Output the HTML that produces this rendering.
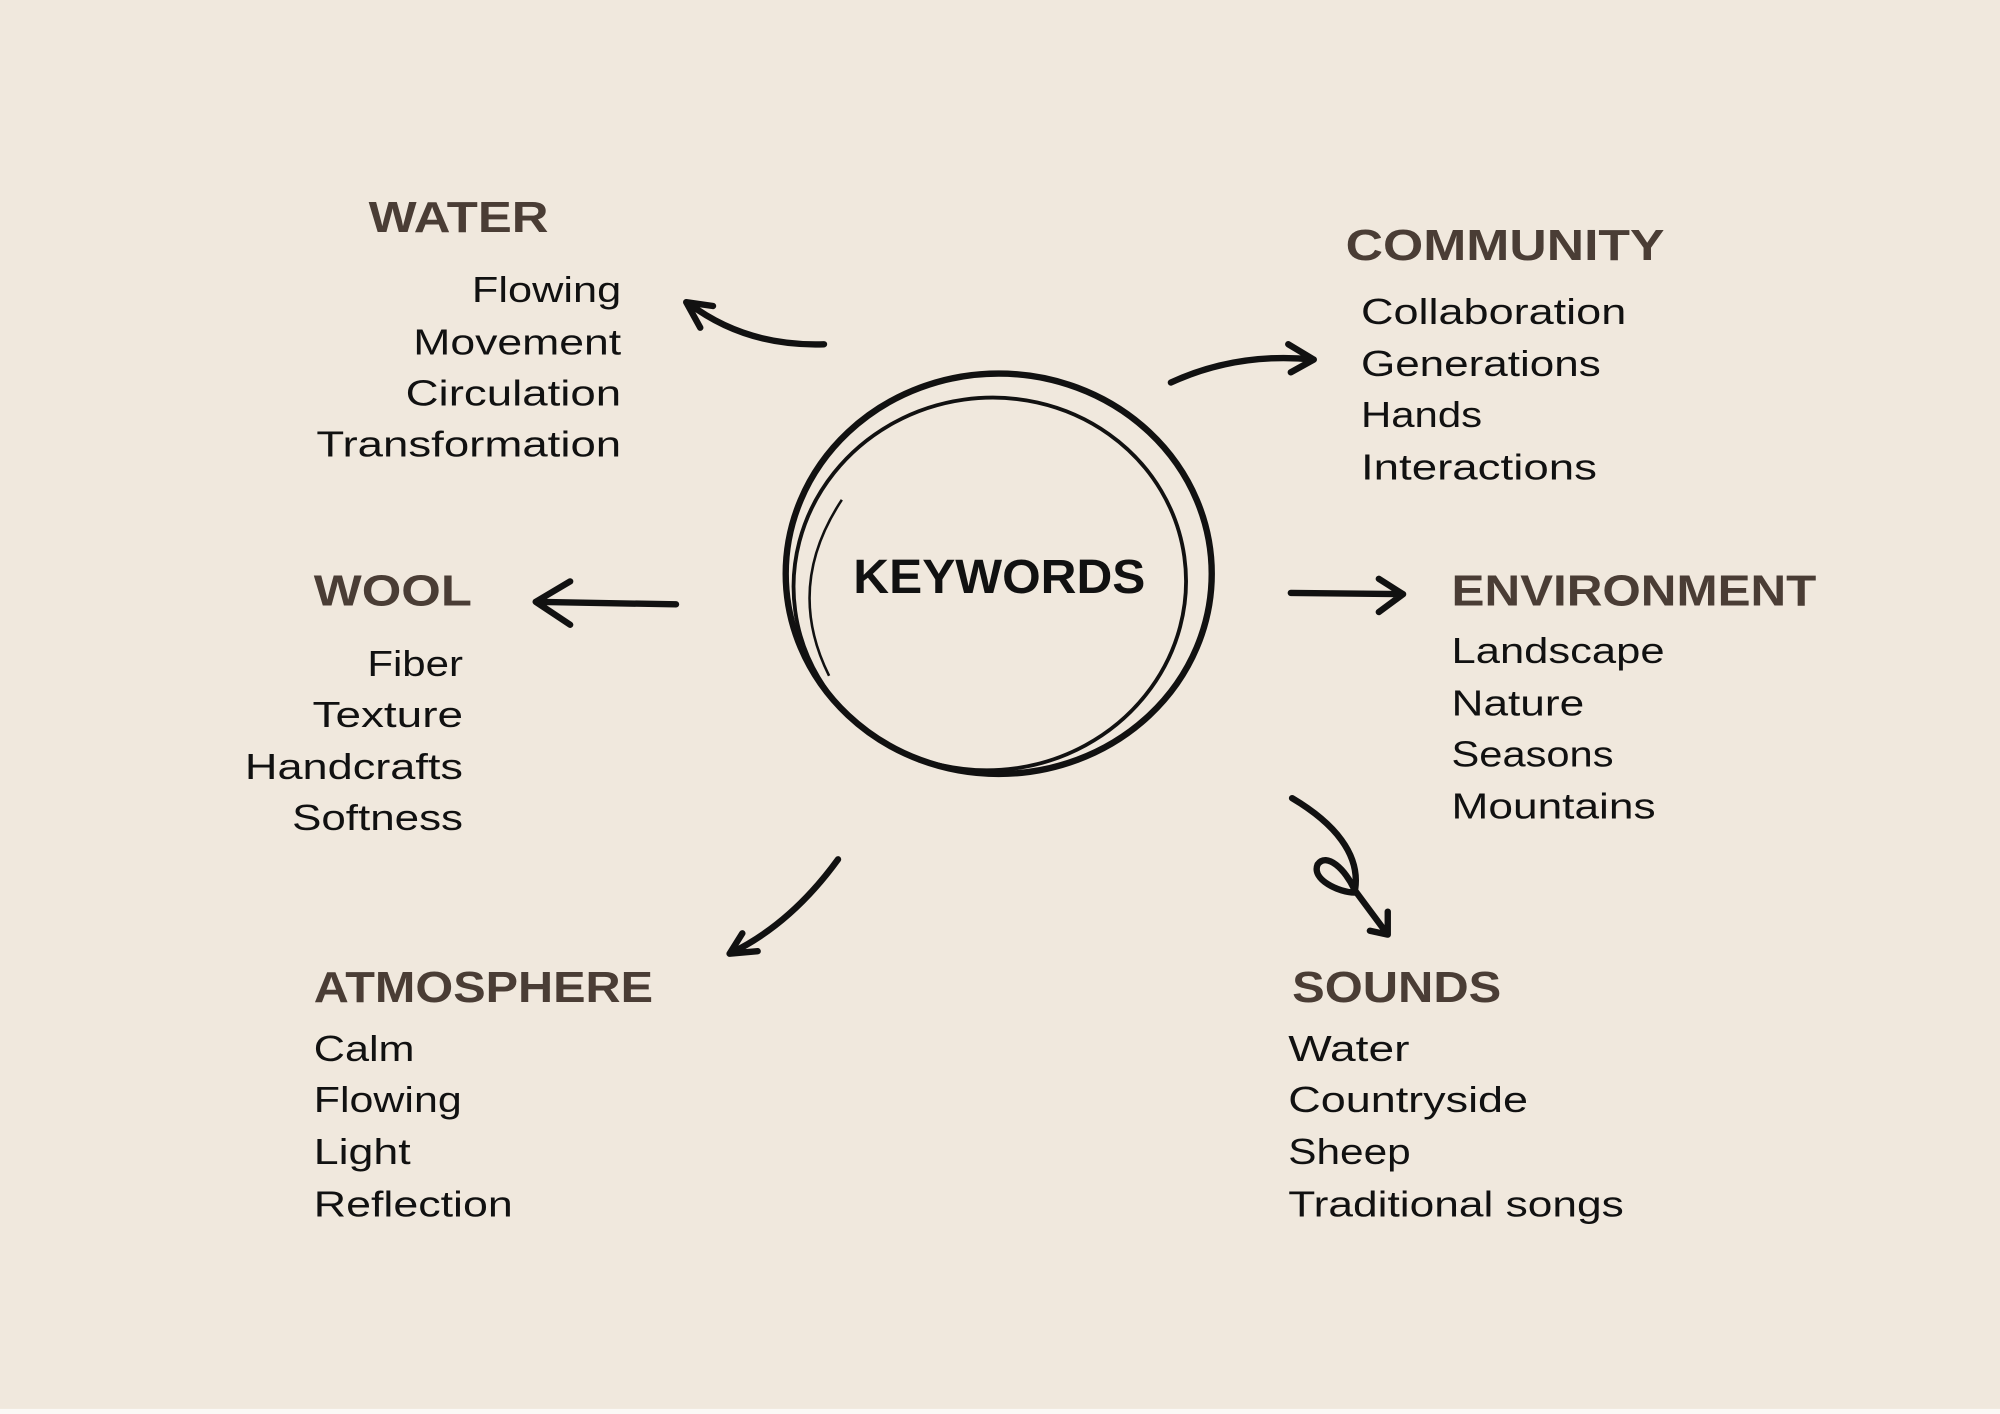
<!DOCTYPE html>
<html><head><meta charset="utf-8"><style>
html,body{margin:0;padding:0;background:#f0e8dd;}
svg{display:block}
.h{font-family:"Liberation Sans",sans-serif;font-weight:bold;fill:#4a3d35;font-size:34px}
.t{font-family:"Liberation Sans",sans-serif;fill:#111;font-size:28px}
.a{fill:none;stroke:#111;stroke-width:5;stroke-linecap:round;stroke-linejoin:round}
</style></head><body>
<svg width="2000" height="1414" viewBox="0 0 1568 1109" preserveAspectRatio="none" xmlns="http://www.w3.org/2000/svg">
<rect width="1568" height="1109" fill="#f0e8dd"/>
<rect y="1105" width="1568" height="4" fill="#fbf9f6"/>

<text class="h" x="289" y="182" textLength="141" lengthAdjust="spacingAndGlyphs">WATER</text>
<g class="t" text-anchor="end">
<text x="487" y="237" textLength="117" lengthAdjust="spacingAndGlyphs">Flowing</text>
<text x="487" y="278" textLength="163" lengthAdjust="spacingAndGlyphs">Movement</text>
<text x="487" y="318" textLength="169" lengthAdjust="spacingAndGlyphs">Circulation</text>
<text x="487" y="358" textLength="239" lengthAdjust="spacingAndGlyphs">Transformation</text>
<text x="363" y="530" textLength="75" lengthAdjust="spacingAndGlyphs">Fiber</text>
<text x="363" y="570" textLength="118" lengthAdjust="spacingAndGlyphs">Texture</text>
<text x="363" y="611" textLength="171" lengthAdjust="spacingAndGlyphs">Handcrafts</text>
<text x="363" y="651" textLength="134" lengthAdjust="spacingAndGlyphs">Softness</text>
</g>
<text class="h" x="1055" y="204" textLength="250" lengthAdjust="spacingAndGlyphs">COMMUNITY</text>
<g class="t">
<text x="1067" y="254" textLength="208" lengthAdjust="spacingAndGlyphs">Collaboration</text>
<text x="1067" y="295" textLength="188" lengthAdjust="spacingAndGlyphs">Generations</text>
<text x="1067" y="335" textLength="95" lengthAdjust="spacingAndGlyphs">Hands</text>
<text x="1067" y="376" textLength="185" lengthAdjust="spacingAndGlyphs">Interactions</text>
<text x="1138" y="520" textLength="167" lengthAdjust="spacingAndGlyphs">Landscape</text>
<text x="1138" y="561" textLength="104" lengthAdjust="spacingAndGlyphs">Nature</text>
<text x="1138" y="601" textLength="127" lengthAdjust="spacingAndGlyphs">Seasons</text>
<text x="1138" y="642" textLength="160" lengthAdjust="spacingAndGlyphs">Mountains</text>
<text x="246" y="832" textLength="79" lengthAdjust="spacingAndGlyphs">Calm</text>
<text x="246" y="872" textLength="116" lengthAdjust="spacingAndGlyphs">Flowing</text>
<text x="246" y="913" textLength="76" lengthAdjust="spacingAndGlyphs">Light</text>
<text x="246" y="954" textLength="156" lengthAdjust="spacingAndGlyphs">Reflection</text>
<text x="1010" y="832" textLength="95" lengthAdjust="spacingAndGlyphs">Water</text>
<text x="1010" y="872" textLength="188" lengthAdjust="spacingAndGlyphs">Countryside</text>
<text x="1010" y="913" textLength="96" lengthAdjust="spacingAndGlyphs">Sheep</text>
<text x="1010" y="954" textLength="263" lengthAdjust="spacingAndGlyphs">Traditional songs</text>
</g>
<text class="h" x="246" y="475" textLength="124" lengthAdjust="spacingAndGlyphs">WOOL</text>
<text class="h" x="1138" y="475" textLength="286" lengthAdjust="spacingAndGlyphs">ENVIRONMENT</text>
<text class="h" x="246" y="786" textLength="266" lengthAdjust="spacingAndGlyphs">ATMOSPHERE</text>
<text class="h" x="1013" y="786" textLength="164" lengthAdjust="spacingAndGlyphs">SOUNDS</text>

<text x="669" y="465" font-family="Liberation Sans,sans-serif" font-weight="bold" font-size="38" fill="#111" textLength="229" lengthAdjust="spacingAndGlyphs">KEYWORDS</text>

<ellipse cx="783" cy="450" rx="167" ry="157" fill="none" stroke="#111" stroke-width="5"/>
<ellipse cx="776" cy="458" rx="154" ry="146" fill="none" stroke="#111" stroke-width="3" transform="rotate(-8 776 458)"/>
<path d="M660,392 Q615,460 650,530" fill="none" stroke="#111" stroke-width="2"/>

<path class="a" d="M646,270 Q585,272 540,238 M538,237 L549,257 M538,237 L559,240"/>
<path class="a" d="M918,300 Q970,276 1030,282 M1030,282 L1010,270 M1030,282 L1012,292"/>
<path class="a" d="M530,474 L420,472 M420,472 L447,456 M420,472 L447,490"/>
<path class="a" d="M1012,465 L1100,466 M1100,466 L1081,454 M1100,466 L1081,480"/>
<path class="a" d="M657,674 Q620,725 572,748 M572,748 L582,732 M572,748 L594,746"/>
<path class="a" d="M1013,626 C1045,645 1068,670 1062,700 C1050,700 1028,690 1033,678 C1040,668 1055,682 1062,698 L1088,733 M1088,733 L1088,715 M1088,733 L1074,730"/>
</svg>
</body></html>
